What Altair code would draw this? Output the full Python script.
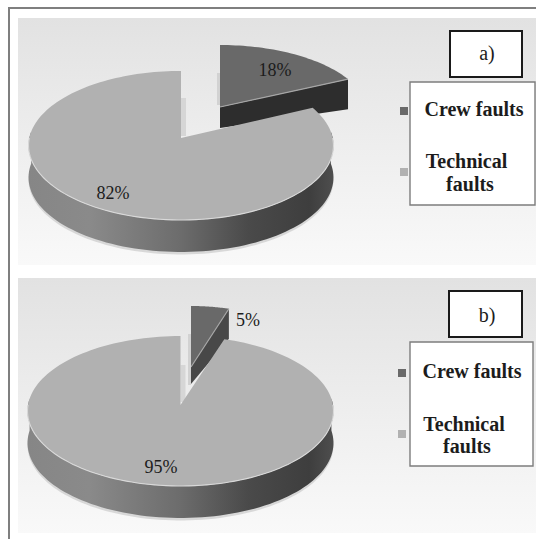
import numpy as np
import pandas as pd
import altair as alt

# Shares of each fault type, in percent, for the two panels
categories = ["Crew faults", "Technical faults"]
shares_a = [18, 82]
shares_b = [5, 95]

# Geometry of the tilted discs: apex position, vertical and horizontal radius, perspective
main_a = dict(ax=181, ay=138, A=73.8, B=151.7, k=0.10)
main_b = dict(ax=180.5, ay=405, A=74.5, B=152.5, k=0.08)
crew_a = dict(ax=220, ay=107, A=68.2, B=147.5, k=0.10)
crew_b = dict(ax=191, ay=367, A=65.9, B=132.0, k=0.08)
rim_depth = 32
crew_depth_a = (21, 30)
crew_depth_b = (17, 30)

CREW_TOP = "#696969"
TECH_TOP = "#b1b1b1"
SERIF = "Liberation Serif"

x_scale = alt.Scale(domain=[0, 536], range=[0, 536], nice=False, zero=False)
y_scale = alt.Scale(domain=[0, 540], range=[0, 540], nice=False, zero=False)
X = alt.X("x:Q", scale=x_scale, axis=None)
Y = alt.Y("y:Q", scale=y_scale, axis=None)


def rim(deg, g):
    t = np.radians(np.asarray(deg, dtype=float))
    d = 1 + g["k"] * np.cos(t)
    return g["ax"] + g["B"] * np.sin(t) / d, g["ay"] - g["A"] * np.cos(t) / d


def polygon(xs, ys, **mark):
    df = pd.DataFrame({"x": xs, "y": ys, "i": range(len(xs))})
    mark.setdefault("strokeWidth", 0)
    return alt.Chart(df).mark_line(**mark).encode(x=X, y=Y, order=alt.Order("i:Q"))


def box(x0, x1, y0, y1, **mark):
    df = pd.DataFrame({"x": [x0], "x2": [x1], "y": [y0], "y2": [y1]})
    return alt.Chart(df).mark_rect(**mark).encode(
        x=X, x2="x2:Q", y=Y, y2="y2:Q"
    )


def label(text, x, y, size, weight="normal", color="#1c1c1c"):
    df = pd.DataFrame({"x": [x], "y": [y], "t": [text]})
    return alt.Chart(df).mark_text(
        font=SERIF, fontSize=size, fontWeight=weight, color=color,
        align="center", baseline="alphabetic",
    ).encode(x=X, y=Y, text="t:N")


def vertical(top, bottom):
    return alt.LinearGradient(
        gradient="linear", x1=0, x2=0, y1=0, y2=1,
        stops=[alt.GradientStop(color=top, offset=0), alt.GradientStop(color=bottom, offset=1)],
    )


wall_fill = alt.LinearGradient(
    gradient="linear", x1=0, x2=1, y1=0, y2=0,
    stops=[
        alt.GradientStop(color="#868686", offset=0),
        alt.GradientStop(color="#8a8a8a", offset=0.2),
        alt.GradientStop(color="#6c6c6c", offset=0.5),
        alt.GradientStop(color="#4a4a4a", offset=0.72),
        alt.GradientStop(color="#3e3e3e", offset=0.92),
        alt.GradientStop(color="#4e4e4e", offset=1),
    ],
)


def pie(shares, main, crew, crew_depth, wall_dark, strips):
    crew_angle = shares[0] * 3.6
    layers = []

    # Exploded crew slice: back wall, cut face and top
    cx, cy = rim([crew_angle], crew)
    layers.append(polygon(
        [crew["ax"], cx[0], cx[0], crew["ax"]],
        [crew["ay"], cy[0], cy[0] + crew_depth[1], crew["ay"] + crew_depth[0]],
        fill=wall_dark,
    ))
    arc = np.linspace(0, crew_angle, 40)
    ax_, ay_ = rim(arc, crew)
    layers.append(polygon(
        [crew["ax"], *ax_], [crew["ay"], *ay_], fill=CREW_TOP
    ))
    layers.append(polygon(
        [crew["ax"], cx[0]], [crew["ay"], cy[0]], stroke="#a6a6a6", strokeWidth=1.2
    ))

    # Inner faces seen through the gap between the slices
    m0, m1 = strips["main"]
    layers.append(box(main["ax"], main["ax"] + 5, main["ay"] + m0, main["ay"] + m1, fill="#d6d6d6"))
    c0, c1 = strips["crew"]
    layers.append(box(crew["ax"] - 3, crew["ax"], crew["ay"] + c0, crew["ay"] + c1, fill="#d2d2d2"))

    # Outer wall of the large slice, with a faint ground shadow below it
    side = np.linspace(85, 275, 90)
    sx, sy = rim(side, main)
    layers.append(polygon(
        [*sx, *sx[::-1]], [*sy, *(sy[::-1] + rim_depth + 2.5)], fill="#cfcfcf", opacity=0.8
    ))
    layers.append(polygon(
        [*sx, *sx[::-1]], [*sy, *(sy[::-1] + rim_depth)], fill=wall_fill
    ))

    # Top face of the large slice
    sweep = np.linspace(crew_angle, 360, 160)
    tx, ty = rim(sweep, main)
    layers.append(polygon(
        [main["ax"], *tx], [main["ay"], *ty], fill=TECH_TOP
    ))
    front = np.linspace(90, 270, 90)
    fx, fy = rim(front, main)
    layers.append(polygon(fx, fy, stroke="#d9d9d9", strokeWidth=1.1))
    return layers


def legend(left, right, top, bottom, sq_x, sq_crew, sq_tech, crew_text, tech_text, fault_text):
    return [
        box(left, right, top, bottom, fill="white", stroke="#7d7d7d", strokeWidth=1.4),
        box(sq_x, sq_x + 8, sq_crew, sq_crew + 8, fill=CREW_TOP),
        box(sq_x, sq_x + 8, sq_tech, sq_tech + 8, fill=TECH_TOP),
        label(categories[0], *crew_text, 20, "bold"),
        label(categories[1].split()[0], *tech_text, 20, "bold"),
        label(categories[1].split()[1], *fault_text, 20, "bold"),
    ]


layers = [
    # Page frame: only the top and left edges fall inside the figure
    box(8, 536, 7, 9, fill="#7f7f7f"),
    box(8, 10, 7, 539, fill="#7f7f7f"),
    # Panel backgrounds
    box(18, 536, 18, 265, fill=vertical("#e2e2e2", "#f9f9f9")),
    box(18, 536, 278, 533, fill=vertical("#e2e2e2", "#f9f9f9")),
]

# Panel a
layers += pie(shares_a, main_a, crew_a, crew_depth_a, "#2d2d2d",
              dict(main=(-40, -2), crew=(-34, -2)))
layers += [
    label(f"{shares_a[0]}%", 275, 76, 18),
    label(f"{shares_a[1]}%", 113, 199, 18),
    box(450, 522, 31, 77, fill="white", stroke="#1a1a1a", strokeWidth=2),
    label("a)", 487, 60, 20),
]
layers += legend(410, 535, 82, 205, 400, 107, 168,
                 (474, 116), (466.5, 168), (470, 191))

# Panel b
layers += pie(shares_b, main_b, crew_b, crew_depth_b, "#484848",
              dict(main=(-40, -3), crew=(-33, 18)))
layers += [
    label(f"{shares_b[0]}%", 248, 326, 18),
    label(f"{shares_b[1]}%", 161, 473, 18),
    box(449, 522, 291, 337, fill="white", stroke="#1a1a1a", strokeWidth=2),
    label("b)", 487, 322, 20),
]
layers += legend(410, 533, 342, 466, 398, 369, 430,
                 (472, 378), (464, 431), (467, 453))

chart = alt.layer(*layers).properties(
    width=536, height=540, padding=0, background="white",
    autosize=alt.AutoSizeParams(type="none"),
).configure_view(stroke=None)

chart.save("out.html", embed_options={"renderer": "svg", "actions": False})
